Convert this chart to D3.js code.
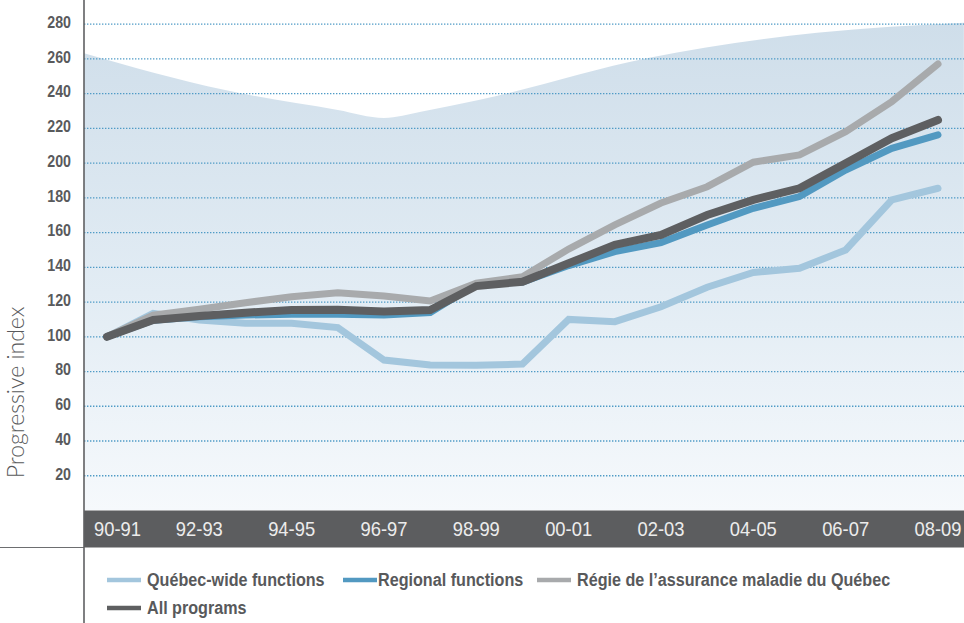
<!DOCTYPE html>
<html>
<head>
<meta charset="utf-8">
<script src="https://cdn.jsdelivr.net/npm/d3@7"></script>
<style>
  html, body { margin: 0; padding: 0; background: #fff; }
  svg { display: block; }
</style>
</head>
<body>
<svg id="chart" width="964" height="623"></svg>
<script>
// ---------- data ----------
const categories = ["90-91","91-92","92-93","93-94","94-95","95-96","96-97","97-98","98-99","99-00",
                    "00-01","01-02","02-03","03-04","04-05","05-06","06-07","07-08","08-09"];
const xTickLabels = ["90-91","92-93","94-95","96-97","98-99","00-01","02-03","04-05","06-07","08-09"];
const yTicks = [20, 40, 60, 80, 100, 120, 140, 160, 180, 200, 220, 240, 260, 280];

const quebecWide = [100, 113.5, 109.7, 107.8, 107.8, 105.3, 86.6, 83.8, 83.6, 84.3, 110, 108.7, 117.3, 128.5, 137, 139.4, 150, 178.8, 185.5];
const regional   = [100, 109.5, 111.5, 112.5, 113, 113, 112.5, 113.9, 130.4, 131.5, 141, 149, 154.2, 164.4, 174, 180.7, 196, 208.5, 216.2];
const ramq       = [100, 112.5, 115.8, 119.6, 123.1, 125.4, 123.5, 120.6, 130.8, 134.6, 150.5, 164.4, 177, 186.4, 200.5, 204.7, 218.1, 235.4, 257];
const allPrograms= [100, 109.7, 112, 113.9, 115.4, 115.5, 114.5, 115.4, 129.2, 131.7, 142.3, 152.9, 158.6, 170.1, 178.8, 185.5, 199.9, 214.3, 224.8];

const seriesNames = ["Québec-wide functions", "Regional functions", "Régie de l’assurance maladie du Québec", "All programs"];
const seriesColors = ["#a3c6dd", "#5299c1", "#a8aaac", "#5e5f61"];
const seriesValues = [quebecWide, regional, ramq, allPrograms];

// decorative background envelope (in category-index / value units)
const bgIndex = [-0.5, 2.56, 5.0, 6.0, 6.8, 8.05, 11.72, 15.38, 18.56];
const bgValue = [263.2, 242, 230.6, 226, 229.6, 236.3, 260.5, 275, 280.8];

// ---------- layout ----------
const plotLeft = 84, plotRight = 964;
const FONT = "'Liberation Sans', Arial, sans-serif";
const svg = d3.select("#chart");

const x = d3.scalePoint().domain(categories).range([107, 938]);
const xi = d3.scaleLinear().domain([0, categories.length - 1]).range([107, 938]);
const y = d3.scaleLinear().domain([0, 280]).range([510.5, 24.1]);

const defs = svg.append("defs");
const grad = defs.append("linearGradient").attr("id", "bgGrad")
  .attr("gradientUnits", "userSpaceOnUse")
  .attr("x1", 0).attr("x2", 0).attr("y1", y(280)).attr("y2", y(0));
grad.append("stop").attr("offset", "0%").attr("stop-color", "#cfdeea");
grad.append("stop").attr("offset", "55%").attr("stop-color", "#e2ecf4");
grad.append("stop").attr("offset", "100%").attr("stop-color", "#f6f9fc");

const clip = defs.append("clipPath").attr("id", "plotClip");
clip.append("rect").attr("x", plotLeft).attr("y", 0).attr("width", plotRight - plotLeft).attr("height", y(0));

// background area
const bgData = bgIndex.map((d, i) => [d, bgValue[i]]);
svg.append("path")
  .datum(bgData)
  .attr("clip-path", "url(#plotClip)")
  .attr("fill", "url(#bgGrad)")
  .attr("d", d3.area().x(d => xi(d[0])).y0(y(0)).y1(d => y(d[1])).curve(d3.curveMonotoneX));

// gridlines
svg.append("g").selectAll("line").data(yTicks).join("line")
  .attr("x1", plotLeft).attr("x2", plotRight)
  .attr("y1", d => y(d)).attr("y2", d => y(d))
  .attr("stroke", "#4f9bc6").attr("stroke-width", 1.3)
  .attr("stroke-dasharray", "1.4 1.6");

// y tick labels (condensed by horizontal scaling)
svg.append("g").selectAll("text").data(yTicks).join("text")
  .attr("transform", d => `translate(71, ${y(d) - 2}) scale(0.9, 1)`)
  .attr("text-anchor", "end").attr("dominant-baseline", "central")
  .attr("font-family", FONT)
  .attr("font-weight", "bold").attr("font-size", 15.8).attr("fill", "#595a5c")
  .text(d => d);

// lines
const line = d3.line().x((d, i) => x(categories[i])).y(d => y(d));
svg.append("g").selectAll("path").data(seriesValues).join("path")
  .attr("fill", "none")
  .attr("stroke", (d, i) => seriesColors[i])
  .attr("stroke-width", (d, i) => i === 3 ? 8 : 7)
  .attr("stroke-linecap", "round")
  .attr("stroke-linejoin", "miter")
  .attr("d", d => line(d));

// x band
svg.append("rect").attr("x", plotLeft).attr("y", y(0)).attr("width", plotRight - plotLeft).attr("height", 37)
  .attr("fill", "#5c5d5f");
svg.append("line").attr("x1", 0).attr("x2", plotLeft).attr("y1", y(0) + 37).attr("y2", y(0) + 37)
  .attr("stroke", "#6d6e70").attr("stroke-width", 1);

// axis line
svg.append("line").attr("x1", plotLeft).attr("x2", plotLeft).attr("y1", 0).attr("y2", 623)
  .attr("stroke", "#5f6062").attr("stroke-width", 1.6);

// x tick labels
const xsx = 0.92;
const xl = svg.append("g").selectAll("text").data(xTickLabels).join("text")
  .attr("text-anchor", "middle").attr("dominant-baseline", "central")
  .attr("font-family", FONT)
  .attr("font-size", 20).attr("fill", "#ececec")
  .text(d => d);
xl.each(function(d) {
  const w = this.getComputedTextLength() * xsx;
  const cx = Math.max(x(d), plotLeft + 10 + w / 2);
  d3.select(this).attr("transform", `translate(${cx}, ${y(0) + 19}) scale(${xsx}, 1)`);
});

// y title
svg.append("text")
  .attr("transform", `translate(24, ${y(68)}) rotate(-90)`)
  .attr("text-anchor", "middle")
  .attr("font-family", "Lato, 'Open Sans', sans-serif").attr("font-weight", 300)
  .attr("font-size", 23).attr("fill", "#58595b")
  .text("Progressive index");

// legend
const legendPos = [[107, 586, 40], [343, 586, 35], [537, 586, 40], [107, 614, 40]];
const lg = svg.append("g").selectAll("g").data(seriesNames).join("g")
  .attr("transform", (d, i) => `translate(${legendPos[i][0]}, ${legendPos[i][1]})`);
lg.append("line").attr("x1", 0).attr("x2", 34).attr("y1", -6).attr("y2", -6)
  .attr("stroke", (d, i) => seriesColors[i]).attr("stroke-width", 4.5);
lg.append("text")
  .attr("transform", (d, i) => `translate(${legendPos[i][2]}, 0) scale(0.85, 1)`)
  .attr("font-family", FONT)
  .attr("font-weight", "bold").attr("font-size", 19).attr("fill", "#58595b")
  .text(d => d);
</script>
</body>
</html>
